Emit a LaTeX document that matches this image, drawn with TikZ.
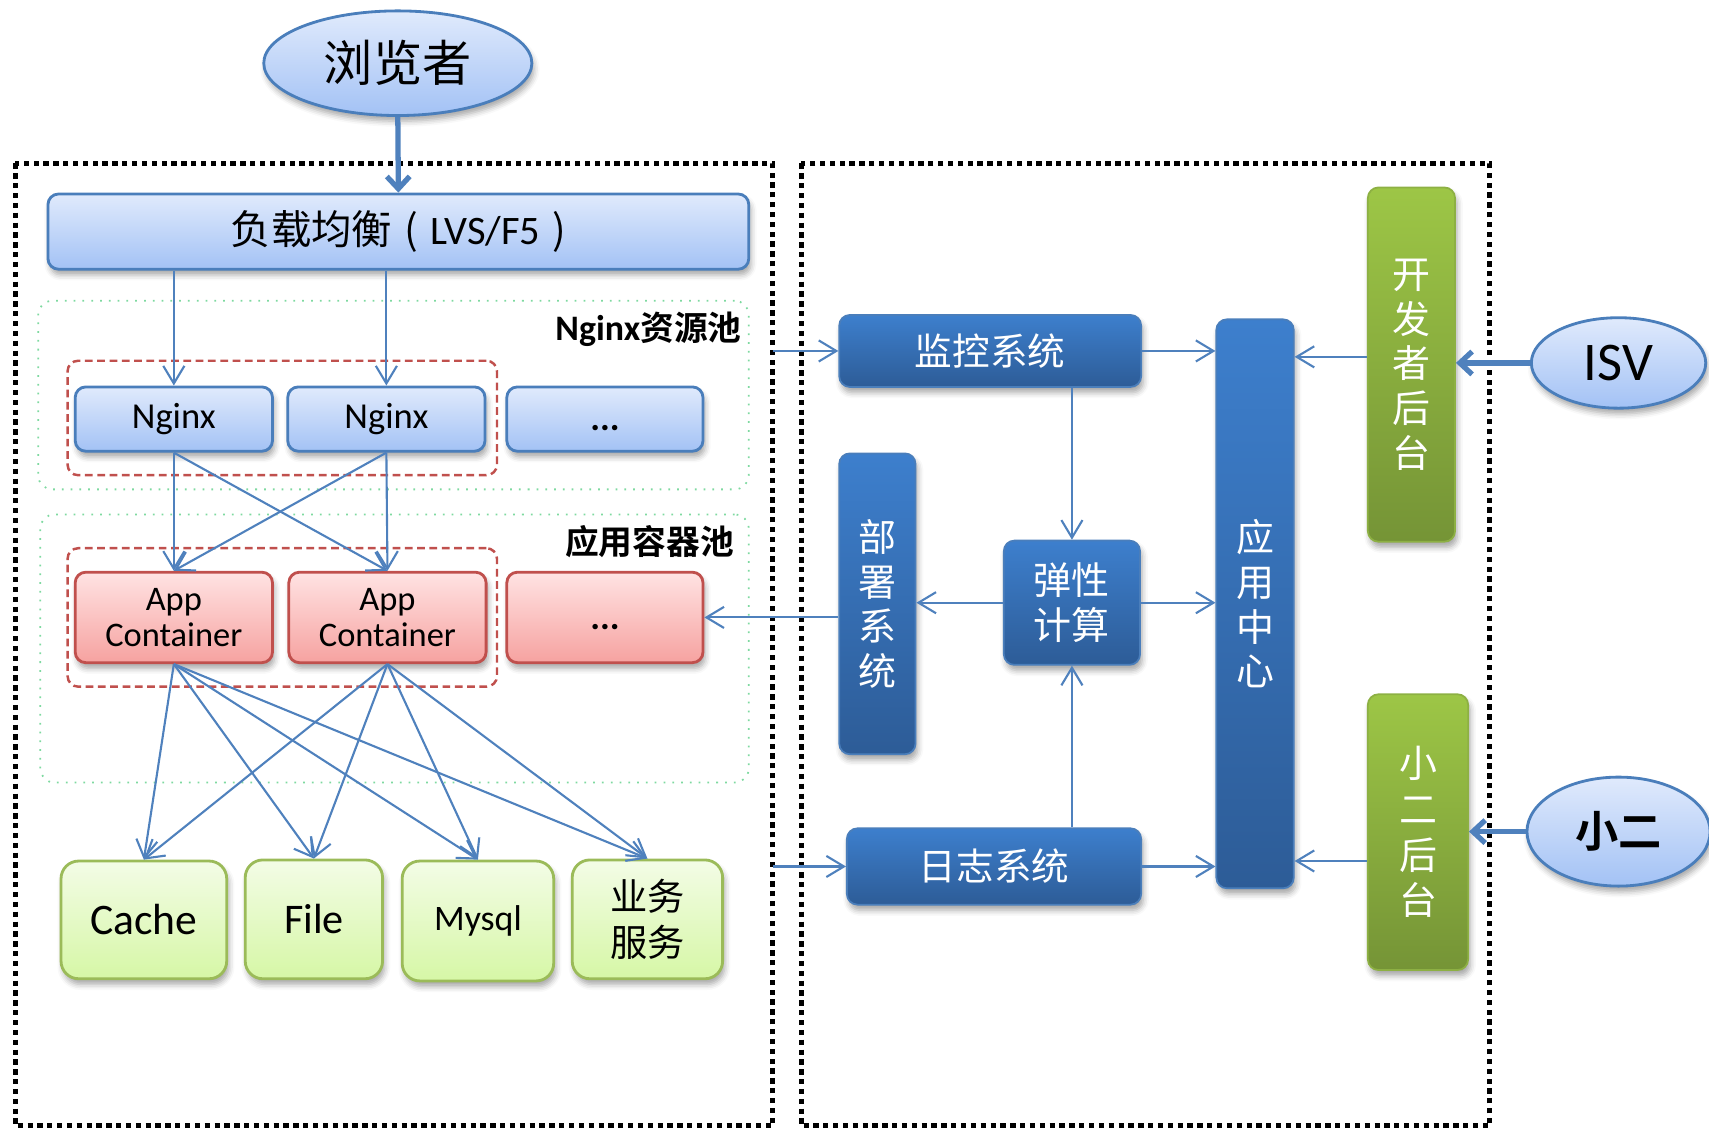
\documentclass[tikz,border=0pt]{standalone}
\usepackage{fontspec}
\setmainfont{Carlito}
\newfontfamily\cjk{Noto Sans CJK SC}[BoldFont={Noto Sans CJK SC Bold}]
\usetikzlibrary{arrows.meta,shapes.geometric,fit,shadows.blur,calc}

\newdimen\pxu \pxu=0.010899cm
\newcommand\setfs[2]{\fontsize{#1}{#2}\selectfont}
% box from its corners: style, x1, y1, x2, y2, name; the text follows
\newcommand\rectnode[6]{\node[#1, minimum width={(#4-#2)*\pxu}, minimum height={(#5-#3)*\pxu}] (#6) at ({(#2+#4)/2},{(#3+#5)/2})}
% ellipsis sitting a little below the middle of its box
\newcommand\lowdots{\smash{\raisebox{-3.3pt}{\bfseries ...}}}

\definecolor{lbtop}{HTML}{E0EAFC}
\definecolor{lbbot}{HTML}{A3C2F5}
\definecolor{lbdraw}{HTML}{4A7EBB}
\definecolor{rtop}{HTML}{FFE3E3}
\definecolor{rbot}{HTML}{F6A2A0}
\definecolor{rdraw}{HTML}{C0504D}
\definecolor{gtop}{HTML}{F3FCE6}
\definecolor{gbot}{HTML}{D6F7A6}
\definecolor{gdraw}{HTML}{9BBB59}
\definecolor{dbtop}{HTML}{3D7FCD}
\definecolor{dbbot}{HTML}{2D5C97}
\definecolor{dbdraw}{HTML}{4A7EBB}
\definecolor{ggtop}{HTML}{9DC646}
\definecolor{ggbot}{HTML}{759436}
\definecolor{ggdraw}{HTML}{8DB043}
\definecolor{wire}{HTML}{4F81BD}
\definecolor{poolline}{HTML}{7ED9A0}

\begin{document}
\begin{tikzpicture}[x=0.010899cm, y=-0.010899cm,
  softshadow/.style={blur shadow={shadow xshift=0.6pt, shadow yshift=-1.6pt,
      shadow blur radius=1.6pt, shadow opacity=35}},
  box/.style={inner sep=0pt, rounded corners=3pt, line width=0.8pt, softshadow},
  lightbox/.style={box, draw=lbdraw, top color=lbtop, bottom color=lbbot},
  redbox/.style={box, draw=rdraw, top color=rtop, bottom color=rbot},
  storebox/.style={box, rounded corners=5pt, draw=gdraw, top color=gtop, bottom color=gbot},
  darkbox/.style={box, draw=dbdraw, line width=0.5pt, top color=dbtop, bottom color=dbbot, text=white},
  greenbar/.style={box, draw=ggdraw, line width=0.5pt, top color=ggtop, bottom color=ggbot, text=white},
  ell/.style={ellipse, inner sep=0pt, draw=lbdraw, line width=0.8pt, top color=lbtop, bottom color=lbbot, softshadow},
  pool/.style={inner sep=0pt, rounded corners=4pt, draw=poolline, line width=0.5pt, dotted},
  grp/.style={inner sep=0pt, rounded corners=3pt, draw=rdraw, line width=0.7pt, dash pattern=on 2.2pt off 1.3pt},
  zone/.style={draw=black, line width=1.4pt, dash pattern=on 1.5pt off 1.3pt},
  lbl/.style={inner sep=0pt, font=\bfseries\setfs{10.2}{12}},
  conn/.style={draw=wire, line width=0.6pt, -{Straight Barb[length=5pt,width=6pt]}},
  big/.style={draw=wire, line width=1.5pt, -{Straight Barb[length=3.5pt,width=6.5pt]}},
  vtext/.style={align=center, font=\cjk\setfs{10.8}{12.7}}
]
\useasboundingbox (0,0) rectangle (1568,1036);

% the two dotted zones
\draw[zone] (14,150) rectangle (709,1033);
\draw[zone] (735,150) rectangle (1367,1033);

% resource pools and their groups
\node[pool, fit={(35,276) (687,449)}] (npool) {};
\node[pool, fit={(37,472) (687,718)}] (apool) {};
\node[grp, fit={(62,331) (456,436)}] (ngrp) {};
\node[grp, fit={(62,503) (456,630)}] (agrp) {};
\node[lbl, anchor=east] (nlbl) at (681,302) {Nginx{\cjk\setfs{9.6}{12}资源池}};
\node[lbl, anchor=east] (albl) at (674,497) {\cjk\setfs{9.6}{12}应用容器池};

% entry
\node[ell, minimum width=246*\pxu, minimum height=96*\pxu, font=\cjk\setfs{14}{16}] (browser) at (365,58) {浏览者};
\rectnode{lightbox, font=\setfs{11.5}{13}}{44}{178}{687}{247}{lb} {{\cjk 负载均衡}\hspace{0.3em}{\cjk (}\hspace{0.3em}LVS/F5\hspace{0.3em}{\cjk )}};

% nginx layer
\rectnode{lightbox, font=\setfs{10.4}{12}}{69}{355}{250}{414}{ng1} {Nginx};
\rectnode{lightbox, font=\setfs{10.4}{12}}{264}{355}{445}{414}{ng2} {Nginx};
\rectnode{lightbox, font=\setfs{10.4}{12}}{465}{355}{645}{414}{ng3} {\lowdots};

% application containers
\rectnode{redbox, align=center, font=\setfs{9.8}{10.1}}{69}{525}{250}{608}{ac1} {App\\Container};
\rectnode{redbox, align=center, font=\setfs{9.8}{10.1}}{265}{525}{446}{608}{ac2} {App\\Container};
\rectnode{redbox, font=\setfs{10.4}{12}}{465}{525}{645}{608}{ac3} {\lowdots};

% back-end services
\rectnode{storebox, font=\setfs{12.4}{14}}{56}{790}{208}{898}{cache} {Cache};
\rectnode{storebox, font=\setfs{12}{14}}{225}{789}{351}{898}{file} {File};
\rectnode{storebox, font=\setfs{10.2}{12}}{369}{790}{508}{900}{mysql} {Mysql};
\rectnode{storebox, align=center, font=\cjk\setfs{10.6}{13.3}}{525}{789}{663}{898}{svc} {业务\\服务};

% management side
\rectnode{darkbox, font=\cjk\setfs{10.7}{12}}{770}{289}{1047}{355}{mon} {监控系统};
\rectnode{darkbox, vtext}{770}{416}{840}{692}{dep} {部\\署\\系\\统};
\rectnode{darkbox, vtext}{921}{496}{1046}{610}{ela} {弹性\\计算};
\rectnode{darkbox, vtext}{1116}{293}{1187}{815}{app} {应\\用\\中\\心};
\rectnode{darkbox, font=\cjk\setfs{10.7}{12}}{777}{760}{1047}{830}{log} {日志系统};
\rectnode{greenbar, vtext}{1255}{172}{1335}{497}{dev} {开\\发\\者\\后\\台};
\rectnode{greenbar, vtext, font=\cjk\setfs{10.8}{13}}{1255}{637}{1347}{890}{xer} {小\\二\\后\\台};

% external users
\node[ell, minimum width=160*\pxu, minimum height=83*\pxu, font=\setfs{15.5}{17}] (isv) at (1485,333) {ISV};
\node[ell, minimum width=168*\pxu, minimum height=100*\pxu, font=\cjk\bfseries\setfs{12.3}{14}] (xe) at (1485,763) {小二};

% request path
\draw[big] (browser.south) -- (lb.north);
\draw[conn] (lb.south -| ng1.north) -- (ng1.north);
\draw[conn] (lb.south -| ng2.north) -- (ng2.north);
\foreach \s in {ng1,ng2}
  \foreach \t in {ac1,ac2}
    \draw[conn] (\s.south) -- (\t.north);
\foreach \s in {ac1,ac2}
  \foreach \t in {cache,file,mysql,svc}
    \draw[conn] (\s.south) -- (\t.north);

% management links
\coordinate (inA) at (709,322);
\coordinate (inB) at (709,795);
\draw[conn] (inA) -- (mon.west);
\draw[conn] (inB) -- (log.west);
\draw[conn] (mon.east) -- (mon.east -| app.west);
\draw[conn] (ela.north |- mon.south) -- (ela.north);
\draw[conn] (ela.west) -- (ela.west -| dep.east);
\draw[conn] (ela.east) -- (ela.east -| app.west);
\draw[conn] (ela.south |- log.north) -- (ela.south);
\draw[conn] (log.east) -- (log.east -| app.west);
\draw[conn] (ac3.east -| dep.west) -- (ac3.east);
\coordinate (devout) at ([yshift=2.2pt]dev.west);
\coordinate (xerout) at ([yshift=-8.2pt]xer.west);
\draw[conn] (devout) -- (devout -| app.east);
\draw[conn] (xerout) -- (xerout -| app.east);
\draw[big] (isv.west) -- (isv.west -| dev.east);
\draw[big] (xe.west) -- (xe.west -| xer.east);
\end{tikzpicture}
\end{document}
